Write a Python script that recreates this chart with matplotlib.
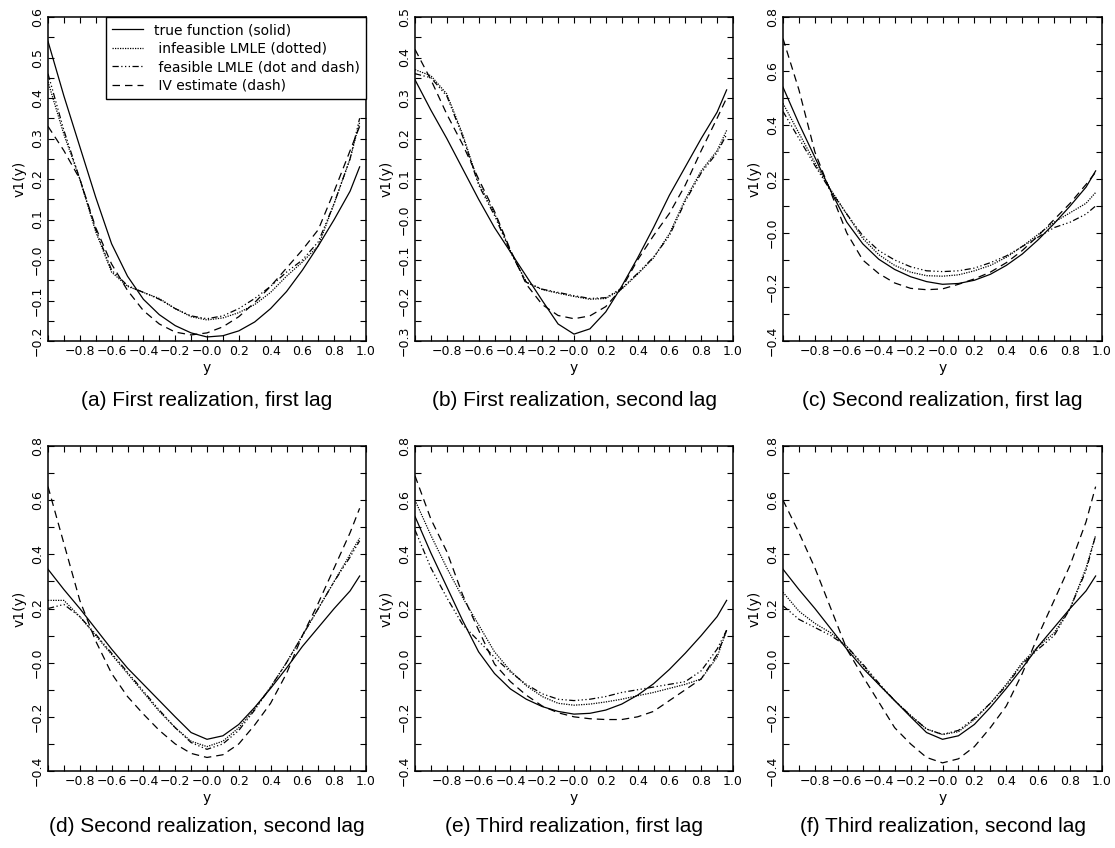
import numpy as np
import matplotlib
matplotlib.use('Agg')
import matplotlib.pyplot as plt
from matplotlib.ticker import FixedLocator, FuncFormatter

# evaluation points on the y axis
y_grid = [-1.0, -0.9, -0.8, -0.7, -0.6, -0.5, -0.4, -0.3, -0.2, -0.1, 0.0,
          0.1, 0.2, 0.3, 0.4, 0.5, 0.6, 0.7, 0.8, 0.9, 0.96]

# true functions (first lag, second lag)
true_lag1 = [0.54, 0.405, 0.28, 0.155, 0.04, -0.04, -0.097, -0.135, -0.162, -0.18, -0.19,
             -0.187, -0.175, -0.153, -0.12, -0.078, -0.025, 0.035, 0.10, 0.17, 0.23]
true_lag2 = [0.345, 0.27, 0.2, 0.125, 0.05, -0.02, -0.08, -0.14, -0.2, -0.258, -0.283,
             -0.27, -0.228, -0.165, -0.095, -0.02, 0.06, 0.13, 0.2, 0.265, 0.32]

# (a)
inf_a = [0.44, 0.31, 0.20, 0.07, -0.03, -0.065, -0.08, -0.095, -0.12, -0.14, -0.148,
         -0.143, -0.13, -0.11, -0.08, -0.04, -0.005, 0.035, 0.14, 0.25, 0.34]
fea_a = [0.46, 0.32, 0.20, 0.075, -0.025, -0.063, -0.08, -0.097, -0.12, -0.138, -0.145,
         -0.138, -0.12, -0.095, -0.065, -0.03, 0.0, 0.045, 0.14, 0.25, 0.35]
iv_a = [0.33, 0.27, 0.20, 0.08, -0.01, -0.075, -0.125, -0.158, -0.178, -0.185, -0.18,
        -0.165, -0.14, -0.105, -0.065, -0.02, 0.025, 0.075, 0.17, 0.27, 0.33]
# (b)
inf_b = [0.37, 0.355, 0.31, 0.21, 0.09, 0.015, -0.077, -0.155, -0.173, -0.182, -0.19,
         -0.197, -0.195, -0.172, -0.135, -0.095, -0.035, 0.05, 0.12, 0.17, 0.22]
fea_b = [0.36, 0.35, 0.305, 0.205, 0.085, 0.01, -0.08, -0.155, -0.172, -0.18, -0.188,
         -0.195, -0.193, -0.17, -0.133, -0.093, -0.04, 0.045, 0.115, 0.165, 0.21]
iv_b = [0.42, 0.345, 0.26, 0.185, 0.1, 0.02, -0.075, -0.16, -0.21, -0.237, -0.245,
        -0.238, -0.215, -0.17, -0.1, -0.04, 0.015, 0.085, 0.17, 0.25, 0.30]
# (c)
inf_c = [0.48, 0.37, 0.26, 0.16, 0.07, -0.02, -0.08, -0.12, -0.145, -0.158, -0.16,
         -0.155, -0.14, -0.12, -0.09, -0.05, -0.005, 0.04, 0.075, 0.11, 0.15]
fea_c = [0.45, 0.35, 0.25, 0.155, 0.07, -0.01, -0.065, -0.10, -0.125, -0.14, -0.143,
         -0.14, -0.13, -0.11, -0.085, -0.05, -0.015, 0.02, 0.04, 0.07, 0.10]
iv_c = [0.72, 0.53, 0.30, 0.15, 0.0, -0.1, -0.15, -0.185, -0.205, -0.21, -0.207,
        -0.19, -0.17, -0.145, -0.11, -0.065, -0.01, 0.05, 0.11, 0.18, 0.225]
# (d)
inf_d = [0.23, 0.23, 0.17, 0.1, 0.03, -0.04, -0.11, -0.18, -0.24, -0.29, -0.31,
         -0.29, -0.24, -0.17, -0.09, 0.0, 0.1, 0.2, 0.3, 0.4, 0.46]
fea_d = [0.20, 0.215, 0.17, 0.105, 0.035, -0.035, -0.105, -0.175, -0.24, -0.295, -0.32,
         -0.3, -0.25, -0.175, -0.09, 0.0, 0.1, 0.2, 0.3, 0.39, 0.45]
iv_d = [0.65, 0.44, 0.23, 0.08, -0.04, -0.125, -0.19, -0.25, -0.3, -0.335, -0.35,
        -0.34, -0.3, -0.23, -0.15, -0.04, 0.1, 0.22, 0.35, 0.48, 0.57]
# (e)
inf_e = [0.6, 0.47, 0.35, 0.24, 0.14, 0.04, -0.03, -0.085, -0.125, -0.15, -0.157,
         -0.153, -0.145, -0.135, -0.122, -0.11, -0.095, -0.08, -0.06, 0.02, 0.12]
fea_e = [0.49, 0.35, 0.24, 0.14, 0.08, 0.02, -0.035, -0.08, -0.115, -0.135, -0.14,
         -0.135, -0.125, -0.11, -0.1, -0.09, -0.08, -0.07, -0.03, 0.05, 0.12]
iv_e = [0.69, 0.53, 0.41, 0.25, 0.12, -0.005, -0.07, -0.12, -0.16, -0.185, -0.2,
        -0.207, -0.21, -0.21, -0.2, -0.18, -0.14, -0.1, -0.06, 0.03, 0.12]
# (f)
inf_f = [0.26, 0.19, 0.145, 0.11, 0.06, -0.01, -0.08, -0.14, -0.195, -0.245, -0.265,
         -0.255, -0.21, -0.15, -0.08, 0.0, 0.06, 0.11, 0.2, 0.35, 0.47]
fea_f = [0.21, 0.16, 0.13, 0.1, 0.06, -0.005, -0.075, -0.14, -0.195, -0.245, -0.265,
         -0.25, -0.205, -0.15, -0.085, -0.005, 0.05, 0.1, 0.2, 0.34, 0.47]
iv_f = [0.6, 0.48, 0.35, 0.2, 0.05, -0.05, -0.145, -0.24, -0.3, -0.35, -0.37,
        -0.355, -0.31, -0.24, -0.16, -0.04, 0.1, 0.23, 0.36, 0.52, 0.65]

captions = ['(a) First realization, first lag', '(b) First realization, second lag',
            '(c) Second realization, first lag', '(d) Second realization, second lag',
            '(e) Third realization, first lag', '(f) Third realization, second lag']
legend_labels = ['true function (solid)', ' infeasible LMLE (dotted)',
                 ' feasible LMLE (dot and dash)', ' IV estimate (dash)']

panels = [
    (true_lag1, inf_a, fea_a, iv_a, (-0.2, 0.6), 0.1),
    (true_lag2, inf_b, fea_b, iv_b, (-0.3, 0.5), 0.1),
    (true_lag1, inf_c, fea_c, iv_c, (-0.4, 0.8), 0.2),
    (true_lag2, inf_d, fea_d, iv_d, (-0.4, 0.8), 0.2),
    (true_lag1, inf_e, fea_e, iv_e, (-0.4, 0.8), 0.2),
    (true_lag2, inf_f, fea_f, iv_f, (-0.4, 0.8), 0.2),
]

styles = ['-', (0, (1, 1)), (0, (5, 2, 1, 2, 1, 2, 1, 2)), (0, (6, 4))]


def tick_fmt(v, pos):
    s = '%.1f' % abs(v)
    if v < 1e-9:
        return '\u2212' + s
    return s


W, H = 1115, 848
fig = plt.figure(figsize=(W / 100, H / 100), dpi=100)

lefts = [48, 415, 783]
widths = [318, 318, 319]
rows = [(17, 341), (446, 771)]
cap_y = [400, 826]

for i, (tr, inf, fea, iv, ylim, step) in enumerate(panels):
    r, c = divmod(i, 3)
    top, bot = rows[r]
    ax = fig.add_axes([lefts[c] / W, 1 - bot / H, widths[c] / W, (bot - top) / H])
    lines = []
    for data, ls in zip([tr, inf, fea, iv], styles):
        ln, = ax.plot(y_grid, data, color='black', lw=0.9, linestyle=ls)
        lines.append(ln)
    ax.set_xlim(-1.0, 1.0)
    ax.set_ylim(*ylim)
    ax.xaxis.set_major_locator(FixedLocator(np.round(np.arange(-0.8, 1.01, 0.2), 2)))
    ax.xaxis.set_minor_locator(FixedLocator(np.round(np.arange(-1.0, 1.01, 0.1), 2)))
    ax.yaxis.set_major_locator(FixedLocator(np.round(np.arange(ylim[0], ylim[1] + 1e-6, step), 2)))
    ax.yaxis.set_minor_locator(FixedLocator(np.round(np.arange(ylim[0], ylim[1] + 1e-6, step / 2), 3)))
    ax.xaxis.set_major_formatter(FuncFormatter(tick_fmt))
    ax.yaxis.set_major_formatter(FuncFormatter(tick_fmt))
    ax.tick_params(which='both', direction='in', top=True, right=True, length=4, width=0.8,
                   labelsize=9, pad=3)
    ax.tick_params(axis='y', labelrotation=90)
    for lab in ax.get_yticklabels():
        lab.set_va('center')
    for sp in ax.spines.values():
        sp.set_linewidth(1.1)
    ax.set_xlabel('y', fontsize=10, labelpad=2)
    ax.set_ylabel('v1(y)', fontsize=10, labelpad=3)
    fig.text((lefts[c] + widths[c] / 2) / W, 1 - cap_y[r] / H, captions[i],
             ha='center', va='center', fontsize=15, family='Liberation Sans')
    if i == 0:
        ax.legend(lines, legend_labels, loc='upper right', bbox_to_anchor=(1.0, 1.0),
                  borderaxespad=0.0, fancybox=False, edgecolor='black', framealpha=1,
                  fontsize=10, handlelength=2.2, handletextpad=0.8, labelspacing=0.32,
                  borderpad=0.45)

fig.savefig('out.png', dpi=100)
